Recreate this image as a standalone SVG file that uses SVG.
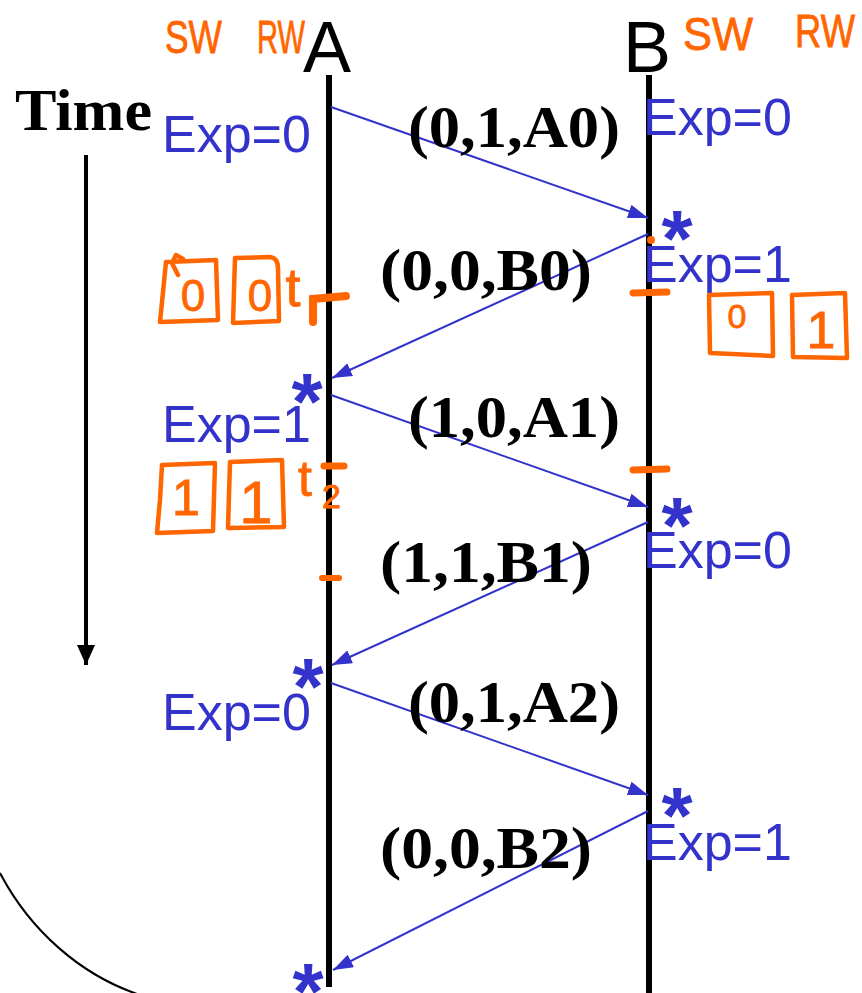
<svg xmlns="http://www.w3.org/2000/svg" width="862" height="993" viewBox="0 0 862 993">
<defs>
<marker id="ah" markerUnits="userSpaceOnUse" markerWidth="20" markerHeight="14" refX="20" refY="7" orient="auto">
<path d="M0,0 L20,7 L0,14 Z" fill="#3333CC"/>
</marker>
<marker id="th" markerUnits="userSpaceOnUse" markerWidth="18" markerHeight="20" refX="9" refY="20" orient="0">
<path d="M0,0 L18,0 L9,20 Z" fill="#000"/>
</marker>
<style>
.life{stroke:#000;stroke-width:6;fill:none}
.msg{stroke:#3333CC;stroke-width:2;fill:none;marker-end:url(#ah)}
.hdr{font-family:"Liberation Sans",Arial,sans-serif;font-size:72px;fill:#000}
.lbl{font-family:"Liberation Serif","Times New Roman",serif;font-weight:bold;font-size:60px;fill:#000}
.exp{font-family:"Liberation Sans",Arial,sans-serif;font-size:52px;fill:#3333CC}
.star{font-family:"Liberation Sans",Arial,sans-serif;font-weight:bold;font-size:80px;fill:#3333CC;text-anchor:middle}
.hw{font-family:"Liberation Sans",Arial,sans-serif;fill:#FF6600;stroke:#FF6600;stroke-width:0.8}
.box{fill:none;stroke:#FF6600;stroke-width:4.5;stroke-linejoin:round;stroke-linecap:round}
.mk{fill:none;stroke:#FF6600;stroke-linecap:round}
</style>
</defs>

<g id="time">
<text x="15" y="130" font-family="Liberation Serif,Times New Roman,serif" font-weight="bold" font-size="60" fill="#000" textLength="137" lengthAdjust="spacingAndGlyphs">Time</text>
<line x1="86" y1="155" x2="86" y2="665" stroke="#000" stroke-width="4" marker-end="url(#th)"/>
</g>
<path id="arc" d="M0,873 C30,930 80,975 140,995" fill="none" stroke="#000" stroke-width="2"/>

<g id="nodeA">
<text class="hdr" x="327" y="72" text-anchor="middle">A</text>
<line class="life" x1="329" y1="75" x2="329" y2="987"/>
</g>
<g id="nodeB">
<text class="hdr" x="647" y="72" text-anchor="middle">B</text>
<line class="life" x1="649" y1="75" x2="649" y2="993"/>
</g>

<g id="connectors">
<line class="msg" x1="331" y1="107" x2="648" y2="218"/>
<line class="msg" x1="648" y1="234" x2="332" y2="378"/>
<line class="msg" x1="331" y1="395" x2="648" y2="507"/>
<line class="msg" x1="648" y1="522" x2="332" y2="665"/>
<line class="msg" x1="331" y1="683" x2="648" y2="795"/>
<line class="msg" x1="648" y1="811" x2="333" y2="970"/>
</g>

<g id="labels">
<text class="lbl" x="408" y="147" textLength="212" lengthAdjust="spacingAndGlyphs">(0,1,A0)</text>
<text class="lbl" x="380" y="290" textLength="212" lengthAdjust="spacingAndGlyphs">(0,0,B0)</text>
<text class="lbl" x="408" y="437" textLength="212" lengthAdjust="spacingAndGlyphs">(1,0,A1)</text>
<text class="lbl" x="380" y="582" textLength="212" lengthAdjust="spacingAndGlyphs">(1,1,B1)</text>
<text class="lbl" x="408" y="722" textLength="212" lengthAdjust="spacingAndGlyphs">(0,1,A2)</text>
<text class="lbl" x="380" y="868" textLength="212" lengthAdjust="spacingAndGlyphs">(0,0,B2)</text>
</g>

<g id="expA">
<text class="exp" x="162" y="152">Exp=0</text>
<text class="exp" x="162" y="442">Exp=1</text>
<text class="exp" x="162" y="730">Exp=0</text>
</g>
<g id="expB">
<text class="exp" x="643" y="135">Exp=0</text>
<text class="exp" x="643" y="282">Exp=1</text>
<text class="exp" x="643" y="568">Exp=0</text>
<text class="exp" x="643" y="860">Exp=1</text>
</g>

<g id="stars">
<text class="star" x="677" y="266">*</text>
<text class="star" x="307" y="429">*</text>
<text class="star" x="677" y="553">*</text>
<text class="star" x="308" y="714">*</text>
<text class="star" x="677" y="843">*</text>
<text class="star" x="308" y="1019">*</text>
</g>

<g id="annotations">
<text class="hw" x="165" y="53" font-size="46" textLength="57" lengthAdjust="spacingAndGlyphs">SW</text>
<text class="hw" x="257" y="53" font-size="46" textLength="48" lengthAdjust="spacingAndGlyphs">RW</text>
<text class="hw" x="683" y="50" font-size="46" textLength="70" lengthAdjust="spacingAndGlyphs">SW</text>
<text class="hw" x="795" y="47" font-size="46" textLength="60" lengthAdjust="spacingAndGlyphs">RW</text>

<path class="box" d="M166,262 L216,260 L218,320 L160,322 Z M178,275 L172,263 L176,255 L183,259"/>
<text class="hw" x="193" y="311" font-size="44" text-anchor="middle">0</text>
<path class="box" d="M235,258 L270,257 Q278,258 278,268 L279,321 L233,323 Z"/>
<text class="hw" x="260" y="311" font-size="44" text-anchor="middle">0</text>
<text class="hw" x="293" y="306" font-size="54" text-anchor="middle">t</text>

<path class="box" d="M709,295 L772,293 L773,356 L710,353 Z"/>
<text class="hw" x="737" y="328" font-size="34" text-anchor="middle">0</text>
<path class="box" d="M792,295 L845,293 L847,358 L793,357 Z"/>
<text class="hw" x="821" y="348" font-size="52" text-anchor="middle">1</text>

<path class="box" d="M162,465 L215,463 L213,531 L157,533 L160,500 Z"/>
<text class="hw" x="186" y="515" font-size="50" text-anchor="middle">1</text>
<path class="box" d="M230,462 L282,460 L284,527 L228,528 Z"/>
<text class="hw" x="256" y="523" font-size="60" text-anchor="middle">1</text>
<text class="hw" x="298" y="496" font-size="50">t<tspan font-size="34" dx="10" dy="12">2</tspan></text>

<path class="mk" d="M313,322 L313,299 L346,296" stroke-width="8"/>
<line class="mk" x1="633" y1="293" x2="667" y2="292" stroke-width="7"/>
<circle cx="651" cy="240" r="4" fill="#FF6600"/>
<line class="mk" x1="324" y1="466" x2="344" y2="466" stroke-width="7"/>
<line class="mk" x1="322" y1="578" x2="339" y2="578" stroke-width="6"/>
<line class="mk" x1="633" y1="470" x2="667" y2="469" stroke-width="7"/>
</g>
</svg>
